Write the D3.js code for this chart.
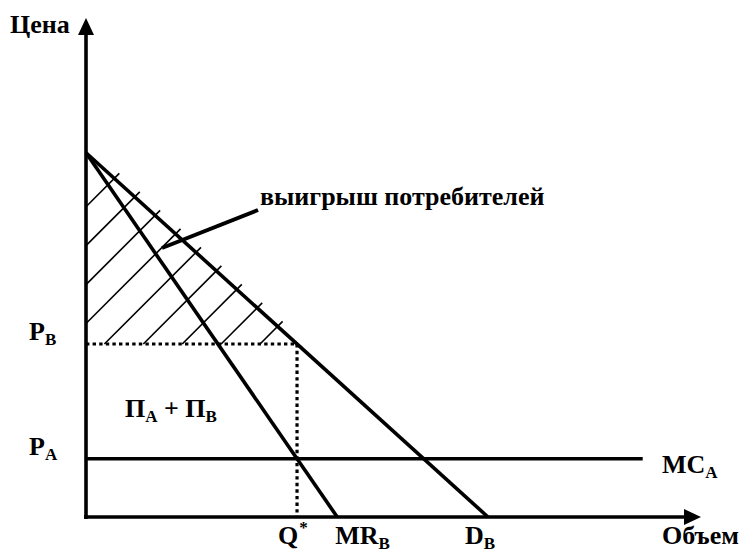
<!DOCTYPE html>
<html>
<head>
<meta charset="utf-8">
<script src="https://cdn.jsdelivr.net/npm/d3@7"></script>
<style>
  body { margin: 0; background: #fff; }
  svg text { font-family: "Liberation Serif", "Times New Roman", serif; font-weight: 700; fill: #000; }
</style>
</head>
<body>
<div id="chart"></div>
<script>
// values (arbitrary units)
const axisMax = { q: 15.3, p: 13.7 }
const demand = [[0, 10], [10, 0]]          // D_B
const marginalRevenue = [[0, 10], [6.25, 0]] // MR_B
const mcPrice = 1.6                          // P_A = MC_A
const mcEnd = 13.85
const hatchCount = 9

const width = 743, height = 556
const svg = d3.select("#chart").append("svg")
    .attr("width", width)
    .attr("height", height)

const x = d3.scaleLinear().domain([0, axisMax.q]).range([86, 701])
const y = d3.scaleLinear().domain([0, axisMax.p]).range([517, 18])

// Q* where MR meets MC, P_B
const mrSlope = (marginalRevenue[1][1] - marginalRevenue[0][1]) / (marginalRevenue[1][0] - marginalRevenue[0][0])
const qStar = (mcPrice - marginalRevenue[0][1]) / mrSlope
const dSlope = (demand[1][1] - demand[0][1]) / (demand[1][0] - demand[0][0])
const pB = demand[0][1] + dSlope * qStar

const line = d3.line().x(d => x(d[0])).y(d => y(d[1]))

// hatching of consumer surplus (45 degree lines in screen space)
const apex = [x(0), y(demand[0][1])]
const corner = [x(qStar), y(pB)]
const sPix = (y(0) - apex[1]) / (x(demand[1][0]) - apex[0])
const cStart = apex[0] + apex[1] + 54
const cStep = ((corner[0] + corner[1]) - 37 - cStart) / (hatchCount - 1)
const hatch = d3.range(hatchCount).map(k => {
    const c = cStart + k * cStep
    const yB = y(pB)
    const lo = (c - yB >= x(0)) ? [c - yB, yB] : [x(0), c - x(0)]
    const hx = (c - apex[1] + apex[0] * sPix) / (1 + sPix)
    const hi = [hx + 5, c - hx - 5]
    return [lo, hi]
})
svg.append("g").selectAll("line.hatch")
    .data(hatch)
    .enter()
    .append("line")
    .attr("x1", d => d[0][0]).attr("y1", d => d[0][1])
    .attr("x2", d => d[1][0]).attr("y2", d => d[1][1])
    .attr("stroke", "#000")
    .attr("stroke-width", 1.6)

// dotted guides
svg.append("path")
    .attr("d", line([[0, pB], [qStar, pB], [qStar, 0]]))
    .attr("fill", "none")
    .attr("stroke", "#000")
    .attr("stroke-width", 3.2)
    .attr("stroke-dasharray", "3.4,3.2")

// demand, MR, MC
const solid = [demand, marginalRevenue, [[0, mcPrice], [mcEnd, mcPrice]]]
svg.append("g").selectAll("path")
    .data(solid)
    .enter()
    .append("path")
    .attr("d", d => line(d))
    .attr("fill", "none")
    .attr("stroke", "#000")
    .attr("stroke-width", 3.6)

// axes with arrows
svg.append("line")
    .attr("x1", x(0)).attr("y1", y(0) + 2)
    .attr("x2", x(0)).attr("y2", y(axisMax.p) + 12)
    .attr("stroke", "#000").attr("stroke-width", 3.6)
svg.append("line")
    .attr("x1", x(0) - 2).attr("y1", y(0))
    .attr("x2", x(axisMax.q) - 12).attr("y2", y(0))
    .attr("stroke", "#000").attr("stroke-width", 3.6)
svg.append("path")
    .attr("d", `M${x(0)},${y(axisMax.p)} L${x(0) - 8},${y(axisMax.p) + 17} L${x(0) + 8},${y(axisMax.p) + 17} Z`)
svg.append("path")
    .attr("d", `M${x(axisMax.q)},${y(0)} L${x(axisMax.q) - 17},${y(0) - 8} L${x(axisMax.q) - 17},${y(0) + 8} Z`)

// pointer to the hatched area
svg.append("line")
    .attr("x1", 162).attr("y1", 248)
    .attr("x2", 258).attr("y2", 210)
    .attr("stroke", "#000").attr("stroke-width", 4)

// labels
const fs = 26, sub = 17
function label(px, py, main, subText, supText) {
    const t = svg.append("text").attr("x", px).attr("y", py).style("font-size", fs + "px")
    t.append("tspan").text(main)
    if (subText) t.append("tspan").attr("dy", 5).style("font-size", sub + "px").text(subText)
    if (supText) t.append("tspan").attr("dx", 1).attr("dy", -11).style("font-size", sub + "px").text(supText)
    return t
}
label(10, 33, "Цена")
label(662, 544, "Объем")
label(260, 205, "выигрыш потребителей")
label(29, y(pB) - 3.5, "P", "B")
label(29, y(mcPrice) - 4, "P", "A")
label(662, y(mcPrice) + 14, "MC", "A")
label(x(qStar) - 19, 544, "Q", null, "*")
label(x(marginalRevenue[1][0]) - 2, 544, "MR", "B")
label(x(demand[1][0]) - 23, 544, "D", "B")
const pi = label(125, 417, "П", "A")
pi.append("tspan").attr("dy", -5).style("font-size", fs + "px").text(" + П")
pi.append("tspan").attr("dy", 5).style("font-size", sub + "px").text("B")
</script>
</body>
</html>
